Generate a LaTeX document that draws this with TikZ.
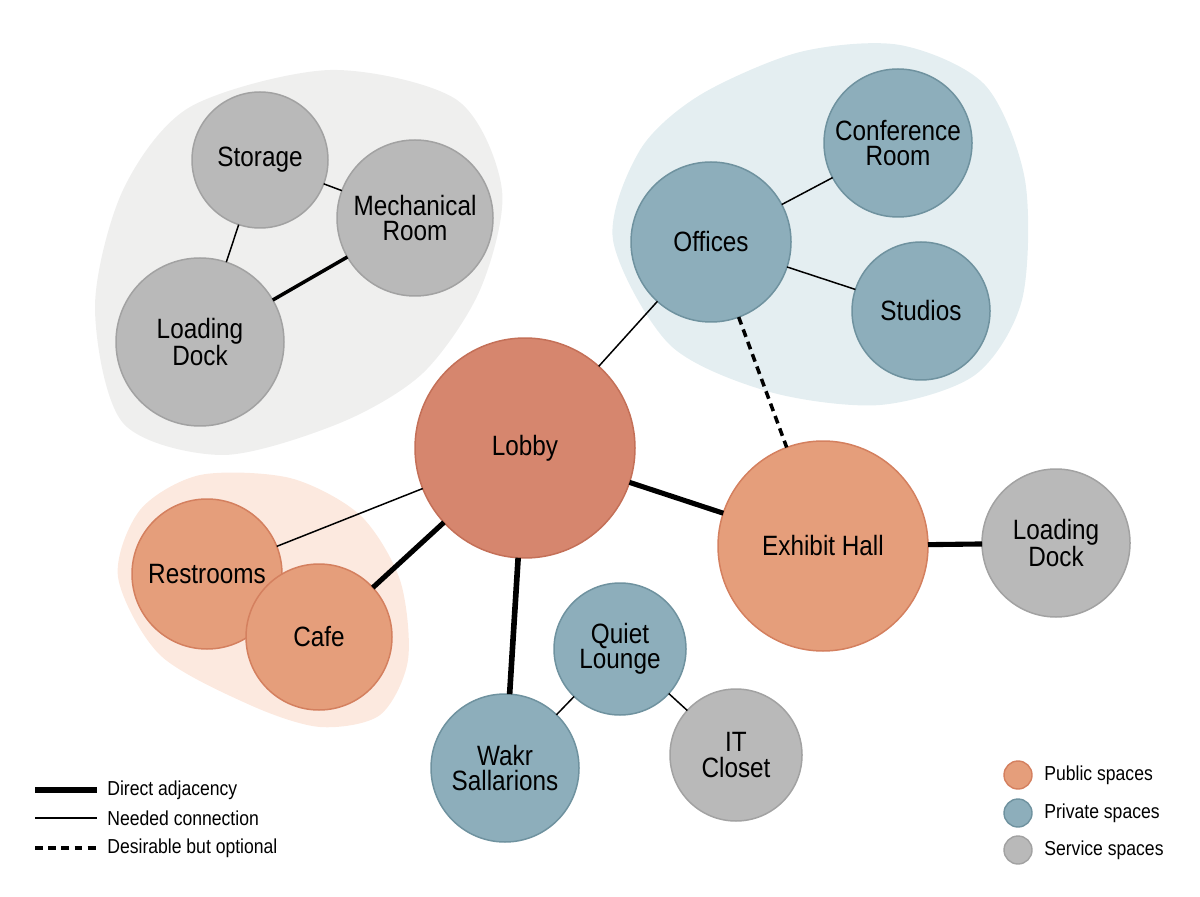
\documentclass[tikz,border=0pt]{standalone}
\usepackage{fontspec}
\setmainfont{Liberation Sans}[FakeStretch=0.87]
\usepackage{tkz-graph}

\definecolor{lobbyfill}{HTML}{D6866E}
\definecolor{lobbyline}{HTML}{C47058}
\definecolor{pubfill}{HTML}{E59E7B}
\definecolor{publine}{HTML}{D4805F}
\definecolor{privfill}{HTML}{8DAEBB}
\definecolor{privline}{HTML}{6F929F}
\definecolor{servfill}{HTML}{B9B9B9}
\definecolor{servline}{HTML}{A2A2A2}
\definecolor{servzone}{HTML}{EFEFEE}
\definecolor{privzone}{HTML}{E4EEF1}
\definecolor{pubzone}{HTML}{FCE9DF}

\newcommand\roomfont{\fontsize{15.9}{14.5}\selectfont}
\newcommand\keyfont{\fontsize{11.5}{13}\selectfont}

\tikzset{
  public/.style={fill=pubfill, draw=publine},
  private/.style={fill=privfill, draw=privline},
  service/.style={fill=servfill, draw=servline},
  keytext/.style={anchor=west, inner sep=0pt, font=\keyfont},
  keydot/.style={circle, minimum size=0.56cm, inner sep=0pt, line width=0.8pt}
}

\begin{document}
\begin{tikzpicture}
\useasboundingbox (0,0) rectangle (24,17.92);
% zones
\fill[servzone] plot[smooth cycle] coordinates {(1.90,11.78) (2.46,14.12) (3.80,15.78) (6.60,16.52)
  (9.14,15.92) (10.04,14.12) (9.60,12.12) (8.46,10.46) (6.80,9.46) (4.46,8.82) (2.46,9.46)};
\fill[privzone] plot[smooth cycle] coordinates {(12.26,13.12) (12.80,14.92) (14.00,16.02) (16.00,16.88)
  (18.00,17.02) (19.70,16.22) (20.50,14.32) (20.44,11.92) (19.50,10.42) (17.60,9.82) (15.40,10.08) (13.40,11.02)};
\fill[pubzone] plot[smooth cycle] coordinates {(2.36,6.38) (2.80,7.72) (4.00,8.42) (5.80,8.36)
  (7.20,7.62) (8.00,6.32) (8.16,4.72) (7.60,3.62) (6.40,3.38) (5.00,3.82) (3.20,4.82)};

\GraphInit[vstyle=Normal]
\tikzset{VertexStyle/.style={shape=circle, line width=0.85pt, text=black, align=center,
  inner sep=0pt, font=\roomfont}}
\tikzset{EdgeStyle/.style={line cap=butt}}
% public
\Vertex[x=10.50, y=8.96, L=Lobby, style={fill=lobbyfill, draw=lobbyline, minimum size=4.4cm}]{lobby}
\Vertex[x=16.46, y=7.00, L={Exhibit Hall}, style={public, line width=1.4pt, minimum size=4.2cm}]{hall}
\Vertex[x=4.14, y=6.44, L=Restrooms, style={public, minimum size=3.0cm}]{wc}
\Vertex[x=6.38, y=5.18, L=Cafe, style={public, minimum size=2.92cm}]{cafe}
% private
\Vertex[x=14.22, y=13.08, L=Offices, style={private, minimum size=3.2cm}]{office}
\Vertex[x=17.96, y=15.06, L={Conference\\Room}, style={private, minimum size=2.96cm}]{conf}
\Vertex[x=18.42, y=11.70, L=Studios, style={private, minimum size=2.76cm}]{studio}
\Vertex[x=12.40, y=4.94, L={Quiet\\Lounge}, style={private, minimum size=2.64cm}]{quiet}
\Vertex[x=10.10, y=2.56, L={Wakr\\Sallarions}, style={private, minimum size=2.96cm}]{wakr}
% service
\Vertex[x=5.20, y=14.72, L=Storage, style={service, minimum size=2.72cm}]{store}
\Vertex[x=8.30, y=13.56, L={Mechanical\\Room}, style={service, minimum size=3.12cm}]{mech}
\Vertex[x=4.00, y=11.08, L={Loading\\Dock}, style={service, minimum size=3.36cm}]{dockA}
\Vertex[x=21.12, y=7.06, L={Loading\\Dock}, style={service, minimum size=2.96cm}]{dockB}
\Vertex[x=14.72, y=2.82, L={IT\\Closet}, style={service, minimum size=2.64cm}]{it}

\SetUpEdge[lw=0.85pt, color=black]
\Edge(store)(mech)
\Edge(store)(dockA)
\Edge(office)(conf)
\Edge(office)(studio)
\Edge(lobby)(office)
\Edge(lobby)(wc)
\Edge(quiet)(wakr)
\Edge(quiet)(it)
\SetUpEdge[lw=2pt, color=black]
\Edge(dockA)(mech)
\SetUpEdge[lw=2.9pt, color=black]
\Edge(lobby)(hall)
\Edge(hall)(dockB)
\Edge(lobby)(cafe)
\SetUpEdge[lw=3.2pt, color=black]
\Edge(lobby)(wakr)
\SetUpEdge[lw=2pt, color=black, style={dash pattern=on 4.5pt off 3pt}]
\Edge(office)(hall)

% key
\coordinate (k1a) at (0.70,2.12); \coordinate (k1b) at (1.94,2.12);
\coordinate (k2a) at (0.70,1.56); \coordinate (k2b) at (1.94,1.56);
\coordinate (k3a) at (0.70,0.96); \coordinate (k3b) at (1.94,0.96);
\draw[line width=2.9pt] (k1a) -- (k1b);
\draw[line width=0.85pt] (k2a) -- (k2b);
\draw[line width=1.8pt, dash pattern=on 4.5pt off 3pt] (k3a) -- (k3b);
\node[keytext] (t1) at (2.14,2.12) {Direct adjacency};
\node[keytext] (t2) at (2.14,1.56) {Needed connection};
\node[keytext] (t3) at (2.14,0.96) {Desirable but optional};

\node[keydot, public] (d1) at (20.36,2.42) {};
\node[keydot, private] (d2) at (20.36,1.66) {};
\node[keydot, service] (d3) at (20.36,0.92) {};
\node[keytext] (u1) at (20.88,2.42) {Public spaces};
\node[keytext] (u2) at (20.88,1.66) {Private spaces};
\node[keytext] (u3) at (20.88,0.92) {Service spaces};
\end{tikzpicture}
\end{document}
